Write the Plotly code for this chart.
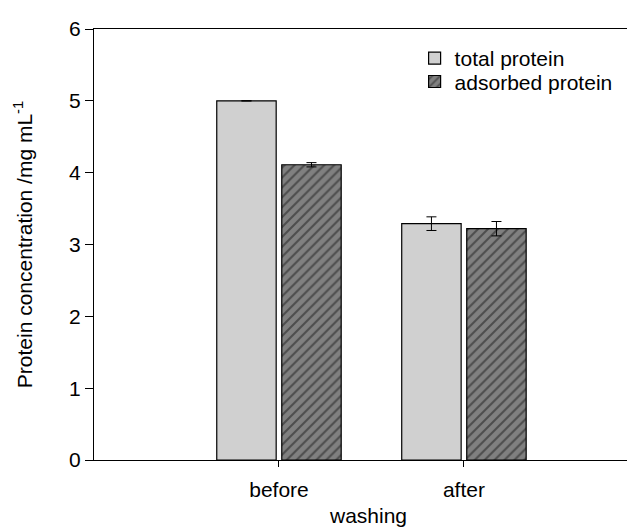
import plotly.graph_objects as go

categories = ["before", "after"]
total_protein = [5.0, 3.29]
total_err = [0.0, 0.095]
adsorbed_protein = [4.11, 3.22]
adsorbed_err = [0.03, 0.10]

FONT = "Liberation Sans, Arial, sans-serif"
FS = 21

fig = go.Figure()
fig.add_trace(go.Bar(
    name="total protein", x=categories, y=total_protein,
    error_y=dict(type="data", array=total_err, visible=True, color="black", thickness=1, width=5),
    marker=dict(color="#d0d0d0", line=dict(color="black", width=1.2)),
    legend="legend",
))
fig.add_trace(go.Bar(
    name="adsorbed protein", x=categories, y=adsorbed_protein,
    error_y=dict(type="data", array=adsorbed_err, visible=True, color="black", thickness=1, width=5),
    marker=dict(color="#808080", line=dict(color="black", width=1.2),
                pattern=dict(shape="/", fgcolor="#1a1a1a", size=7, solidity=0.3, fillmode="overlay")),
    legend="legend2",
))

leg_common = dict(xanchor="left", yanchor="top", bgcolor="rgba(0,0,0,0)",
                  font=dict(family=FONT, size=FS), itemwidth=30)

fig.update_layout(
    width=635, height=528,
    margin=dict(l=86, r=0, t=21, b=76),
    paper_bgcolor="white", plot_bgcolor="white",
    font=dict(family=FONT, size=FS, color="black"),
    barmode="group", bargap=0.297, bargroupgap=0.086,
    showlegend=True,
    legend=dict(x=0.584, y=0.979, **leg_common),
    legend2=dict(x=0.584, y=0.925, **leg_common),
    xaxis=dict(range=[-1, 1.968], showline=True, linecolor="black", linewidth=1,
               mirror=True, ticks="outside", ticklen=6, tickcolor="black",
               showgrid=False, zeroline=False, automargin=False,
               ticklabelstandoff=5,
               tickfont=dict(family=FONT, size=FS),
               title=dict(text="washing", standoff=8, font=dict(family=FONT, size=FS))),
    yaxis=dict(range=[0, 6], showline=True, linecolor="black", linewidth=1,
               ticks="outside", ticklen=8, tickcolor="black", dtick=1,
               showgrid=False, zeroline=False, automargin=False,
               tickfont=dict(family=FONT, size=FS),
               title=dict(text="Protein concentration /mg mL<sup>-1</sup>", standoff=30,
                          font=dict(family=FONT, size=FS))),
)

fig.write_html("out.html")
